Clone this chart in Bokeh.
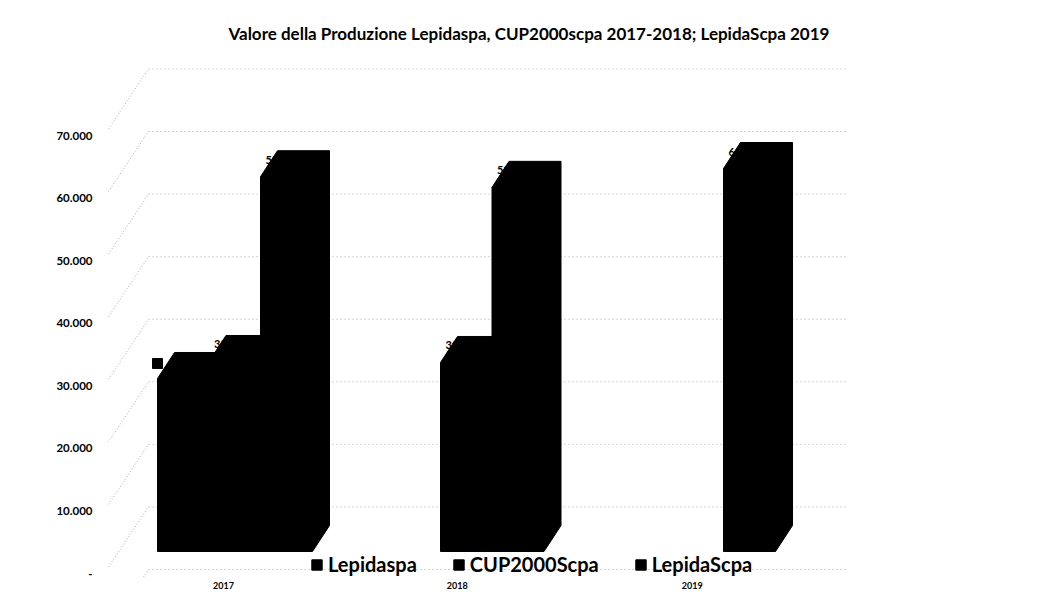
from bokeh.plotting import figure
from bokeh.models import Range1d, FixedTicker, Legend, LegendItem, ColumnDataSource
from bokeh.embed import file_html
from bokeh.resources import INLINE
from bokeh.core.properties import value

# ---------------- data ----------------
categories = ["2017", "2018", "2019"]
series_names = ["Lepidaspa", "CUP2000Scpa", "LepidaScpa"]
lepidaspa = [27650, None, None]
cup2000scpa = [30370, 30210, None]
lepidascpa = [59900, 58200, 61210]
y_ticks = [0, 10000, 20000, 30000, 40000, 50000, 60000, 70000]
y_tick_labels = ["-", "10.000", "20.000", "30.000", "40.000", "50.000", "60.000", "70.000"]
wall_top = 80000
title_text = "Valore della Produzione Lepidaspa, CUP2000scpa 2017-2018; LepidaScpa 2019"

series_values = [lepidaspa, cup2000scpa, lepidascpa]

# ---------------- geometry (pixel calibration of the 3D view) ----------------
W_FIG, H_FIG = 1031, 592
FR_L, FR_R, FR_T, FR_B = 100, 1031, 52, 578      # frame edges, px
PX_CAT = 231.5                                   # px per category
X0 = 157                                         # x of category 0 slot 0
PPV = 62.57 / 10000                              # px per value unit
Y0 = 573                                         # y of value 0 (axis)

def px_x(d):
    return d / PX_CAT

def px_y(d):
    return d / PPV

SLOT = px_x(51.5)
BW = px_x(52)
DX = px_x(17)
DY = px_y(26)
BASE = px_y(22)

p = figure(width=W_FIG, height=H_FIG, output_backend="svg", toolbar_location=None,
           x_range=Range1d((FR_L - X0) / PX_CAT, (FR_R - X0) / PX_CAT),
           y_range=Range1d((Y0 - FR_B) / PPV, (Y0 - FR_T) / PPV),
           min_border_left=FR_L, min_border_right=0,
           min_border_top=FR_T, min_border_bottom=H_FIG - FR_B,
           title=title_text)
p.outline_line_color = None
p.background_fill_color = "white"
p.border_fill_color = "white"
p.xgrid.visible = False
p.ygrid.visible = False

p.title.text_font = "Lato"
p.title.text_font_size = "17px"
p.title.text_font_style = "bold"
p.title.text_color = "black"
p.title.align = "left"
p.title.offset = 128
p.title.standoff = 17

# y axis
ya = p.yaxis[0]
ya.ticker = FixedTicker(ticks=y_ticks)
ya.major_label_overrides = {t: l for t, l in zip(y_ticks, y_tick_labels)}
ya.axis_line_color = None
ya.major_tick_line_color = None
ya.minor_tick_line_color = None
ya.major_tick_out = 0
ya.major_tick_in = 0
ya.major_label_standoff = 8
ya.major_label_text_font = "Lato"
ya.major_label_text_font_style = "bold"
ya.major_label_text_font_size = "11.5px"
ya.major_label_text_color = "black"

# x axis (category labels on the front edge of the floor)
xa = p.xaxis[0]
cat_ticks = [0.285, 1.295, 2.31]
xa.ticker = FixedTicker(ticks=cat_ticks)
xa.major_label_overrides = {t: c for t, c in zip(cat_ticks, categories)}
xa.axis_line_color = None
xa.major_tick_line_color = None
xa.minor_tick_line_color = None
xa.major_tick_out = 0
xa.major_tick_in = 0
xa.major_label_standoff = 3
xa.major_label_text_font = "Lato"
xa.major_label_text_font_style = "bold"
xa.major_label_text_font_size = "9px"
xa.major_label_text_color = "black"

# ---------------- walls / gridlines ----------------
levels = y_ticks + [wall_top]
back_xl, back_xr = px_x(148 - X0), px_x(845 - X0)
front_x = px_x(108 - X0)
lift = px_y(4)
p.multi_line(xs=[[back_xl, back_xr] for _ in levels],
             ys=[[lv + lift, lv + lift] for lv in levels],
             line_color="#8a8a8a", line_dash="1 3", line_width=1, line_alpha=0.7)
p.multi_line(xs=[[front_x, back_xl] for _ in levels],
             ys=[[lv + lift - px_y(60), lv + lift] for lv in levels],
             line_color="#8a8a8a", line_dash="1 2", line_width=1, line_alpha=0.7)

# ---------------- data labels (mostly hidden behind the bars) ----------------
lab_x, lab_y, lab_t = [], [], []
for s, vals in enumerate(series_values):
    if s == 0:
        continue
    for c, v in enumerate(vals):
        if v is None:
            continue
        xl = c + s * SLOT
        lab_x.append(xl + px_x(5))
        lab_y.append(BASE + v + DY - px_y(9))
        lab_t.append(f"{v:,.0f}".replace(",", "."))
p.text(x=lab_x, y=lab_y, text=lab_t, text_font=value("Lato"), text_font_style="bold",
       text_font_size="11px", text_color="black", text_baseline="middle", text_align="left")

# ---------------- 3D columns ----------------
renderers = []
for s, vals in enumerate(series_values):
    xs, ys = [], []
    for c, v in enumerate(vals):
        if v is None:
            continue
        xl = c + s * SLOT
        top = BASE + v
        xs.append([xl, xl + BW, xl + BW + DX, xl + BW + DX, xl + DX, xl])
        ys.append([BASE, BASE, BASE + DY, top + DY, top + DY, top])
    src = ColumnDataSource(dict(xs=xs, ys=ys))
    r = p.patches("xs", "ys", source=src, fill_color="black", line_color="black", line_width=1)
    renderers.append(r)

# legend key of the first data label
v0 = lepidaspa[0]
p.scatter(x=[0.0], y=[BASE + v0 + DY - px_y(11)], marker="square", size=10,
          fill_color="black", line_color="black")

legend = Legend(items=[LegendItem(label=n, renderers=[r]) for n, r in zip(series_names, renderers)],
                orientation="horizontal", location=(210, 2))
legend.label_text_font = "Lato"
legend.label_text_font_style = "bold"
legend.label_text_font_size = "20px"
legend.label_text_color = "black"
legend.glyph_width = 13
legend.glyph_height = 13
legend.label_standoff = 5
legend.spacing = 35
legend.padding = 0
legend.margin = 0
legend.border_line_alpha = 0
legend.background_fill_alpha = 0
p.add_layout(legend)

open("out.html", "w").write(file_html(p, INLINE))
